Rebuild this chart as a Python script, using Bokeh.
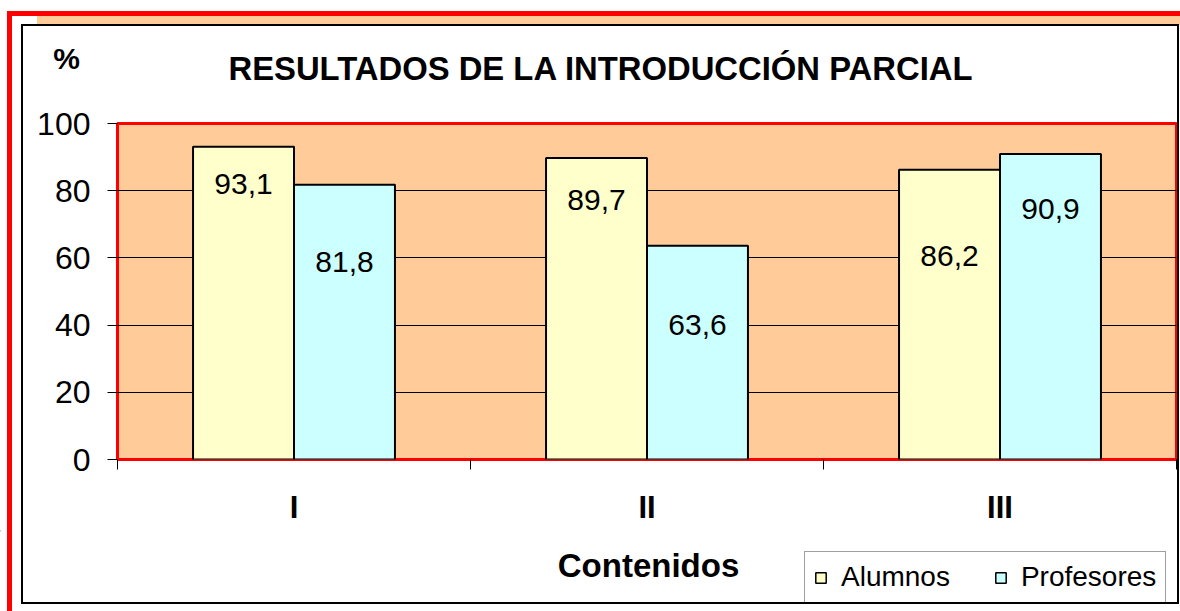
from bokeh.plotting import figure
from bokeh.layouts import column
from bokeh.models import (FactorRange, ColumnDataSource, LinearAxis, FixedTicker, Legend,
                          LegendItem, Range1d, Grid, Label, InlineStyleSheet)
from bokeh.transform import dodge
from bokeh.core.properties import value
from bokeh.embed import file_html
from bokeh.resources import INLINE

# ---------------- data ----------------
categories = ["I", "II", "III"]
series_names = ["Alumnos", "Profesores"]
alumnos = [93.1, 89.7, 86.2]
profesores = [81.8, 63.6, 90.9]
# vertical placement of the value labels (data units, as placed in the original)
alumnos_label_y = [82.1, 77.1, 60.7]
profesores_label_y = [58.9, 39.9, 74.7]
y_ticks = [0, 20, 40, 60, 80, 100]

title_text = "RESULTADOS DE LA INTRODUCCIÓN PARCIAL"
x_title = "Contenidos"
y_title = "%"

FONT = "Liberation Sans"
C_ALU = "#FFFFCC"
C_PRO = "#CCFFFF"
C_BG = "#FFCC99"
W = 1180
H_TOP, H_MAIN, H_BOT = 103, 427, 81

def fmt(v):
    return f"{v:.1f}".replace(".", ",")

def blank_fig(h):
    f = figure(width=W, height=h, x_range=Range1d(0, W), y_range=Range1d(h, 0),
               output_backend="svg", toolbar_location=None,
               x_axis_type=None, y_axis_type=None,
               min_border=0, min_border_left=0, min_border_right=0,
               min_border_top=0, min_border_bottom=0)
    f.frame_align = False
    f.outline_line_color = None
    f.background_fill_color = "white"
    f.border_fill_color = "white"
    return f

# ---------------- header: "%" and title ----------------
p0 = blank_fig(H_TOP)
p0.add_layout(Label(x=66, y=58, text=y_title, text_align="center", text_baseline="middle",
                    text_font=FONT, text_font_size="30px", text_font_style="bold",
                    text_color="black"))
p0.add_layout(Label(x=228, y=68, text=title_text, text_align="left", text_baseline="middle",
                    text_font=FONT, text_font_size="32.8px", text_font_style="bold",
                    text_color="black"))

# ---------------- main chart ----------------
src = ColumnDataSource(dict(
    cat=categories,
    alumnos=alumnos,
    profesores=profesores,
    alumnos_txt=[fmt(v) for v in alumnos],
    profesores_txt=[fmt(v) for v in profesores],
    alumnos_ly=alumnos_label_y,
    profesores_ly=profesores_label_y,
))

p = figure(x_range=FactorRange(*categories), y_range=Range1d(0, 100),
           width=W, height=H_MAIN, output_backend="svg", toolbar_location=None,
           x_axis_type=None, y_axis_type=None,
           min_border_left=117, min_border_right=4, min_border_top=20, min_border_bottom=71)
p.frame_align = False
p.background_fill_color = C_BG
p.border_fill_color = "white"
p.outline_line_color = "red"
p.outline_line_width = 3

yaxis = LinearAxis(ticker=FixedTicker(ticks=y_ticks))
yaxis.axis_line_color = None
yaxis.major_tick_in = 0
yaxis.major_tick_out = 10
yaxis.major_tick_line_color = "black"
yaxis.minor_tick_line_color = None
yaxis.major_label_standoff = 17
yaxis.major_label_text_font = FONT
yaxis.major_label_text_font_size = "32px"
yaxis.major_label_text_color = "black"
p.add_layout(yaxis, "left")

p.add_layout(Grid(dimension=1, ticker=yaxis.ticker, grid_line_color="black", grid_line_width=1))

# x axis: labels at category centres, ticks at category boundaries
centers = [i + 0.5 for i in range(len(categories))]
bounds = [float(i) for i in range(len(categories) + 1)]
xaxis = LinearAxis(ticker=FixedTicker(ticks=centers, minor_ticks=bounds))
xaxis.major_label_overrides = {c: lab for c, lab in zip(centers, categories)}
xaxis.axis_line_color = None
xaxis.major_tick_line_color = None
xaxis.major_tick_in = 0
xaxis.major_tick_out = 10
xaxis.minor_tick_line_color = "black"
xaxis.minor_tick_in = 0
xaxis.minor_tick_out = 10
xaxis.major_label_standoff = 20
xaxis.major_label_text_font = FONT
xaxis.major_label_text_font_size = "31px"
xaxis.major_label_text_font_style = "bold"
xaxis.major_label_text_color = "black"
p.add_layout(xaxis, "below")

BW = 0.286
OFF = BW / 2
p.vbar(x=dodge("cat", -OFF, range=p.x_range), top="alumnos", width=BW, source=src,
       fill_color=C_ALU, line_color="black", line_width=2)
p.vbar(x=dodge("cat", OFF, range=p.x_range), top="profesores", width=BW, source=src,
       fill_color=C_PRO, line_color="black", line_width=2)

p.text(x=dodge("cat", -OFF, range=p.x_range), y="alumnos_ly", text="alumnos_txt", source=src,
       text_align="center", text_baseline="middle", text_font=value(FONT),
       text_font_size="30px", text_color="black")
p.text(x=dodge("cat", OFF, range=p.x_range), y="profesores_ly", text="profesores_txt", source=src,
       text_align="center", text_baseline="middle", text_font=value(FONT),
       text_font_size="30px", text_color="black")

# ---------------- footer: x title and legend ----------------
p2 = blank_fig(H_BOT)
p2.add_layout(Label(x=648, y=35, text=x_title, text_align="center", text_baseline="middle",
                    text_font=FONT, text_font_size="33px", text_font_style="bold",
                    text_color="black"))
# legend proxies: one zero-height bar each, placed outside the visible range
la = p2.vbar(x=[-100], top=[0], width=1, fill_color=C_ALU, line_color="black", line_width=1.5)
lp = p2.vbar(x=[-100], top=[0], width=1, fill_color=C_PRO, line_color="black", line_width=1.5)
legend = Legend(items=[LegendItem(label=series_names[0], renderers=[la]),
                       LegendItem(label=series_names[1], renderers=[lp])],
                orientation="horizontal", location=(804, 8))
legend.padding = 9
legend.spacing = 44
legend.margin = 0
legend.glyph_width = 13
legend.glyph_height = 13
legend.label_standoff = 14
legend.label_text_font = FONT
legend.label_text_font_size = "28px"
legend.label_text_color = "black"
legend.border_line_color = "#404040"
legend.border_line_width = 1
legend.background_fill_color = "white"
legend.background_fill_alpha = 1
p2.add_layout(legend)

layout = column(p0, p, p2, spacing=0)

# outer page decoration (red corner lines, peach strip, chart-area border)
layout.stylesheets = [InlineStyleSheet(css="""
:host::before {
  content: ""; position: absolute; left: 7px; top: 11px; width: 1173px; height: 600px;
  border-top: 5px solid #FF0000; border-left: 5px solid #FF0000; box-sizing: border-box;
  background: linear-gradient(#FFCC99, #FFCC99) no-repeat 25px 0 / 100% 9px;
  pointer-events: none; z-index: 5;
}
:host::after {
  content: ""; position: absolute; left: 21px; top: 24px; width: 1158px; height: 580px;
  border: 2px solid #000000; box-sizing: border-box; pointer-events: none; z-index: 6;
}
""")]

open("out.html", "w").write(file_html(layout, INLINE))
